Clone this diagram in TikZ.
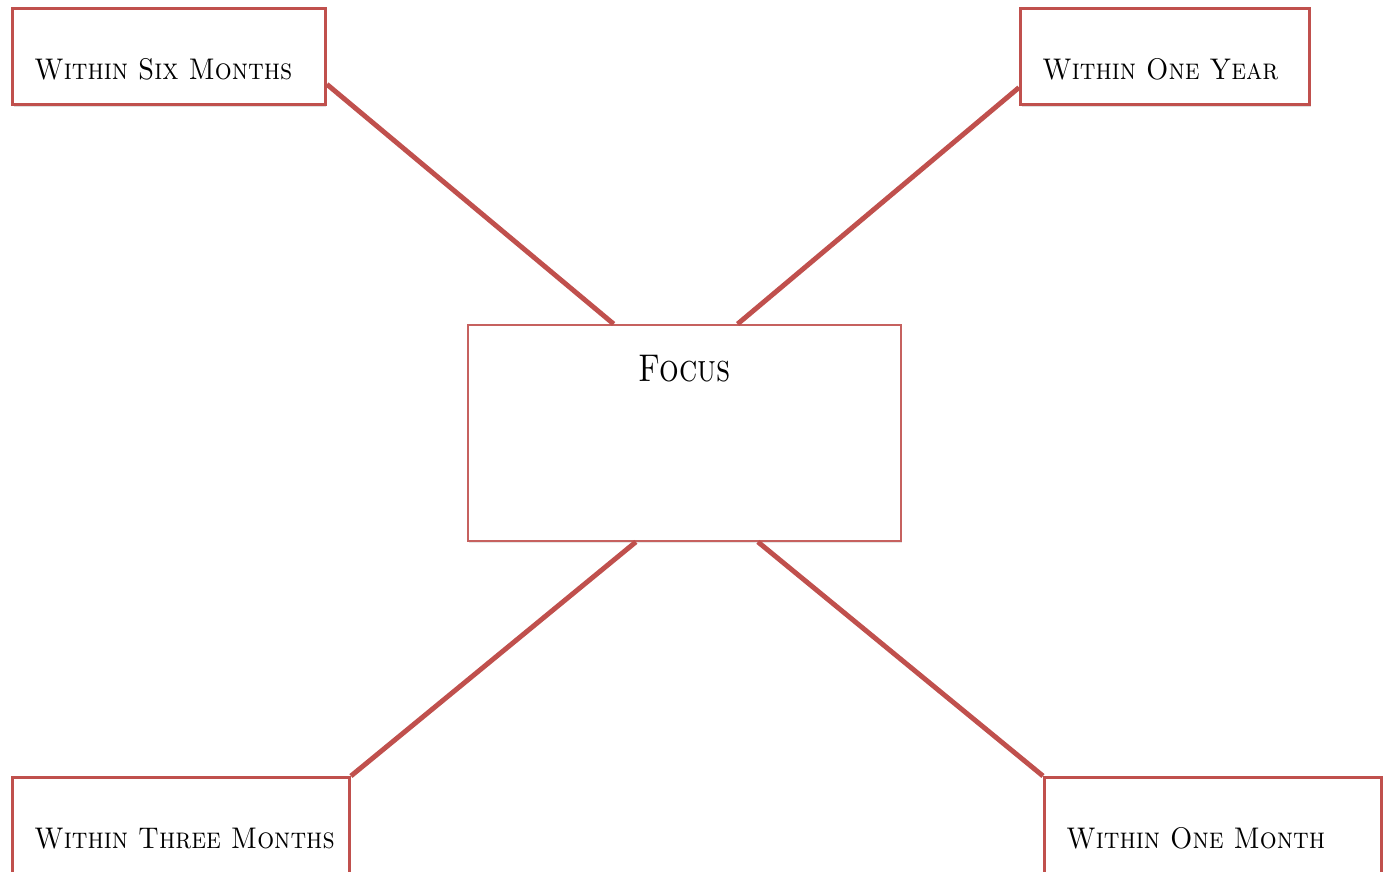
\documentclass[tikz,border=0pt]{standalone}
\usepackage{fontspec}
\usetikzlibrary{shapes,shadows}
\newfontfamily\periodfont[FakeStretch=0.89]{lmromancaps10-regular.otf}
\newfontfamily\hubfont[FakeStretch=0.8]{lmromancaps10-regular.otf}
\definecolor{linkred}{HTML}{C0504D}
\tikzstyle{period} = [draw=linkred, line width=1.7pt, fill=white, rectangle, anchor=north west,
  inner xsep=0.44cm, inner ysep=0pt, text height=1.42cm, text depth=0.5cm, align=left,
  font=\periodfont\fontsize{17}{20}\selectfont,
  drop shadow={opacity=0.25, shadow xshift=0.6pt, shadow yshift=-1.6pt}]
\tikzstyle{hub} = [draw=linkred!90, line width=1.1pt, fill=white, rectangle, anchor=north west,
  inner sep=0pt, text width=8.66cm, text height=1.14cm, text depth=3.18cm, align=center,
  font=\hubfont\fontsize{22}{26}\selectfont,
  drop shadow={opacity=0.2, shadow xshift=0.6pt, shadow yshift=-1.2pt}]
\tikzstyle{spoke} = [draw=linkred, line width=2.8pt]

\begin{document}
\begin{tikzpicture}[x=0.02cm,y=-0.02cm]
	\useasboundingbox (0,0) rectangle (1387,872);
	% put the boxes where we want them
	\node [hub] (focus) at (467,324) {Focus};
	\node [period,text width=5.38cm] (six) at (11,7) {\mbox{Within Six Months}};
	\node [period,text width=4.9cm] (year) at (1019,7) {\mbox{Within One Year}};
	\node [period,text width=5.86cm] (three) at (11,776) {\mbox{Within Three Months}};
	\node [period,text width=5.86cm] (month) at (1043,776) {\mbox{Within One Month}};

	% draw the spokes
	\draw [spoke] (six.-10) -- (focus.123);
	\draw [spoke] (year.192) -- (focus.64);
	\draw [spoke] (focus.246) -- (three.north east);
	\draw [spoke] (focus.-56) -- (month.north west);
\end{tikzpicture}
\end{document}
